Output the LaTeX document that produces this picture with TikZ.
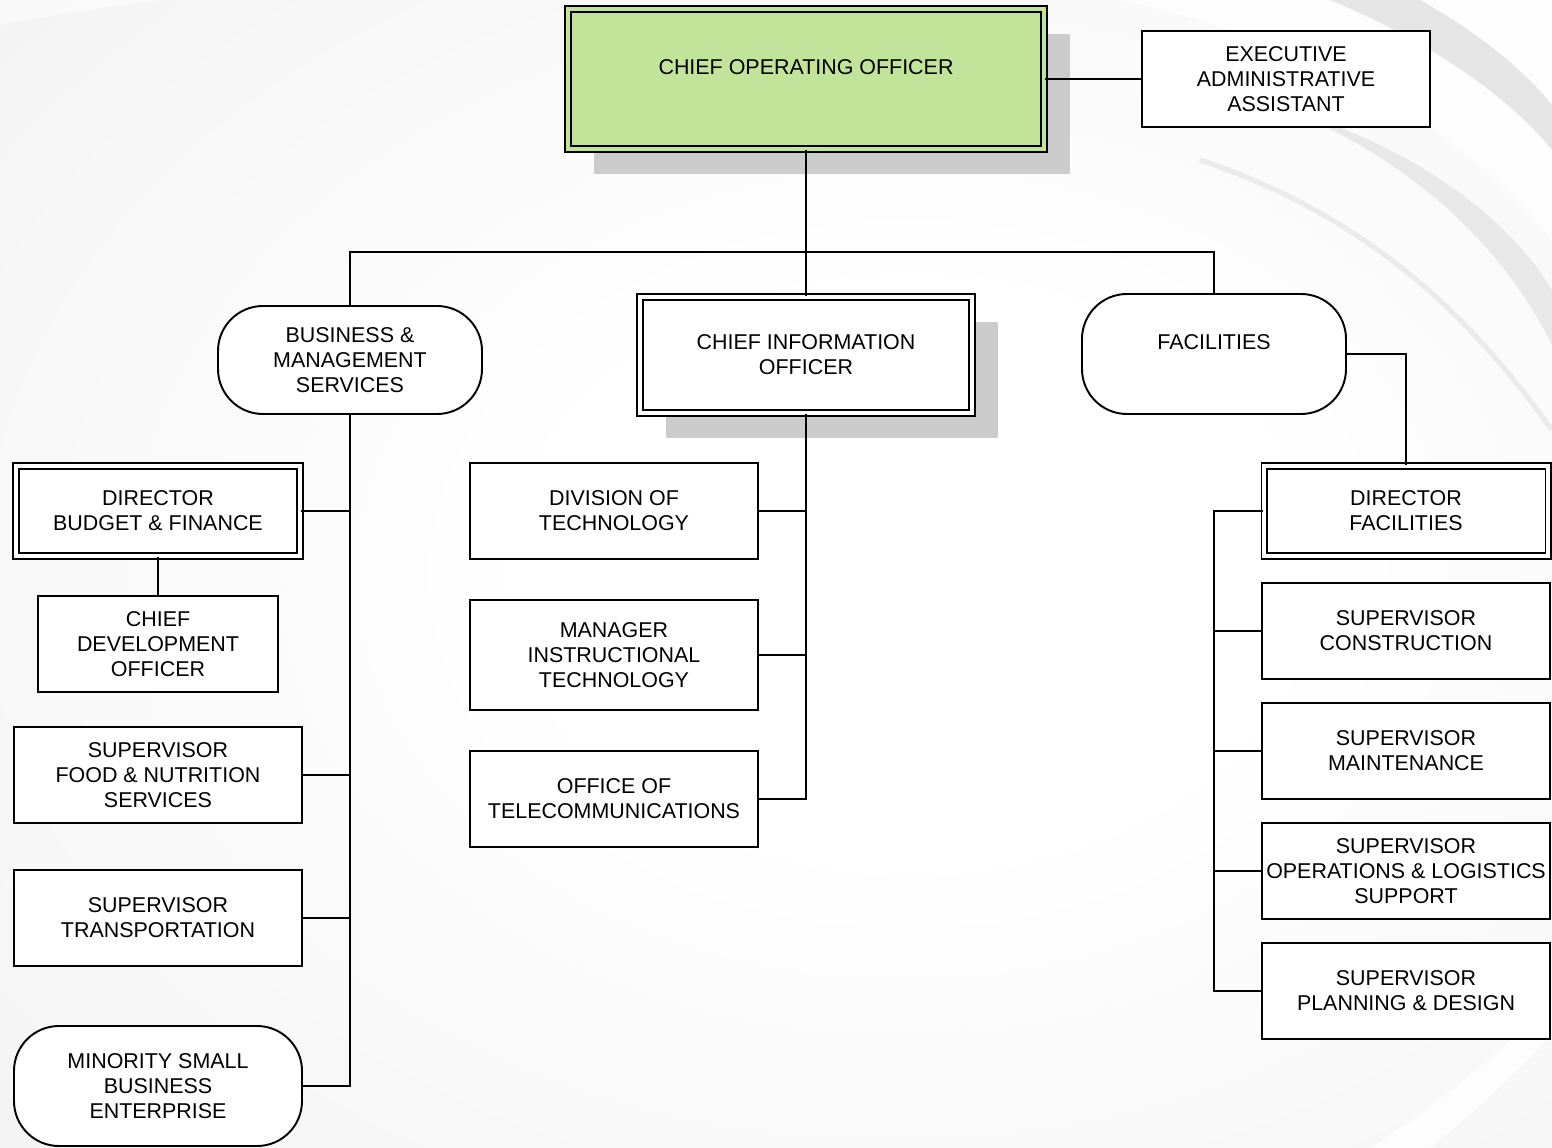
\documentclass[tikz,border=0pt]{standalone}
\usepackage{fontspec}
\setmainfont{Liberation Sans}
\usetikzlibrary{positioning}
\usetikzlibrary{shadows}
\definecolor{cooGreen}{HTML}{C2E39A}
\definecolor{shadowGray}{HTML}{CCCCCC}
\pgfdeclareradialshading{bgshade}{\pgfpoint{5bp}{0bp}}{color(0bp)=(white); color(12bp)=(white); color(70bp)=(black!10); color(100bp)=(black!10)}

\begin{document}
\begin{tikzpicture}[x=0.02cm, y=-0.02cm, line width=1.1pt,
	every node/.style={font=\fontsize{12.2}{14.2}\selectfont, align=center, inner sep=0pt},
	box/.style 2 args={draw, fill=white, minimum width=#1*0.02cm, minimum height=#2*0.02cm},
	dbox/.style 2 args={box={#1}{#2}, double=white, double distance=1.8pt},
	pill/.style 2 args={box={#1}{#2}, rounded corners=0.9cm},
	shade box/.style={drop shadow={shadow xshift=0.52cm, shadow yshift=-0.51cm, fill=shadowGray, opacity=1}}]

	% background
	\begin{scope}
		\clip (0,0) rectangle (1552,1148);
		\shade[shading=bgshade] (0,0) rectangle (1552,1148);
		\fill[white, opacity=0.5] (0,25) .. controls (60,14) and (110,6) .. (160,0) -- (0,0) -- cycle;
		\fill[white, opacity=0.8] (1120,0) .. controls (1350,50) and (1480,150) .. (1552,240) -- (1552,0) -- cycle;
		\fill[black!10] (1330,0) .. controls (1450,50) and (1520,110) .. (1552,150) -- (1552,105) .. controls (1520,65) and (1470,28) .. (1420,0) -- cycle;
		\fill[black!9] (1290,110) .. controls (1430,170) and (1510,260) .. (1552,345) -- (1552,290) .. controls (1510,220) and (1420,150) .. (1290,110) -- cycle;
		\draw[black!8, line width=3pt] (1200,160) .. controls (1380,220) and (1480,330) .. (1552,430);
		\fill[white, opacity=0.8] (1370,1148) .. controls (1450,1095) and (1510,1045) .. (1552,1000) -- (1552,1035) .. controls (1510,1080) and (1470,1115) .. (1430,1148) -- cycle;
	\end{scope}

	% top level
	\node[dbox={476}{140}, fill=cooGreen, double=cooGreen, shade box] (coo) at (806,79) {CHIEF OPERATING OFFICER\\\mbox{}};
	\node[box={288}{96}] (eaa) at (1286,79) {EXECUTIVE\\ADMINISTRATIVE\\ASSISTANT};

	% second level
	\node[pill={264}{108}] (bms) at (350,360) {BUSINESS \&\\MANAGEMENT\\SERVICES};
	\node[dbox={332}{116}, shade box] (cio) at (806,355) {CHIEF INFORMATION\\OFFICER};
	\node[pill={264}{120}] (fac) at (1214,354) {FACILITIES\\\mbox{}};

	% business & management services
	\node[dbox={284}{90}] (dbf) at (158,511) {DIRECTOR\\BUDGET \& FINANCE};
	\node[box={240}{96}] (cdo) at (158,644) {CHIEF\\DEVELOPMENT\\OFFICER};
	\node[box={288}{96}] (sfn) at (158,775) {SUPERVISOR\\FOOD \& NUTRITION\\SERVICES};
	\node[box={288}{96}] (stp) at (158,918) {SUPERVISOR\\TRANSPORTATION};
	\node[pill={288}{120}] (msb) at (158,1086) {MINORITY SMALL\\BUSINESS\\ENTERPRISE};

	% chief information officer
	\node[box={288}{96}] (dot) at (614,511) {DIVISION OF\\TECHNOLOGY};
	\node[box={288}{110}] (mit) at (614,655) {MANAGER\\INSTRUCTIONAL\\TECHNOLOGY};
	\node[box={288}{96}] (otc) at (614,799) {OFFICE OF\\TELECOMMUNICATIONS};

	% facilities
	\node[dbox={284}{90}] (dfa) at (1406,511) {DIRECTOR\\FACILITIES};
	\node[box={288}{96}] (sco) at (1406,631) {SUPERVISOR\\CONSTRUCTION};
	\node[box={288}{96}] (sma) at (1406,751) {SUPERVISOR\\MAINTENANCE};
	\node[box={288}{96}] (sop) at (1406,871) {SUPERVISOR\\OPERATIONS \& LOGISTICS\\SUPPORT};
	\node[box={288}{96}] (spd) at (1406,991) {SUPERVISOR\\PLANNING \& DESIGN};

	% connectors
	\coordinate (busL) at (350,252);
	\coordinate (busR) at (1214,252);
	\coordinate (facSpine) at (1214,511);
	\draw (coo.east) -- (eaa.west);
	\draw (coo.south) -- (cio.north);
	\draw (bms.north) -- (busL) -- (busR) -- (fac.north);

	\draw (bms.south) |- (msb.east);
	\foreach \n in {dbf,sfn,stp}
		\draw (\n.east) -- (\n.east -| bms.south);
	\draw (dbf.south) -- (cdo.north);

	\draw (cio.south) |- (otc.east);
	\foreach \n in {dot,mit}
		\draw (\n.east) -- (\n.east -| cio.south);

	\draw (fac.east) -| (dfa.north);
	\draw (dfa.west) -- (facSpine) |- (spd.west);
	\foreach \n in {sco,sma,sop}
		\draw (\n.west) -- (\n.west -| facSpine);
\end{tikzpicture}
\end{document}
